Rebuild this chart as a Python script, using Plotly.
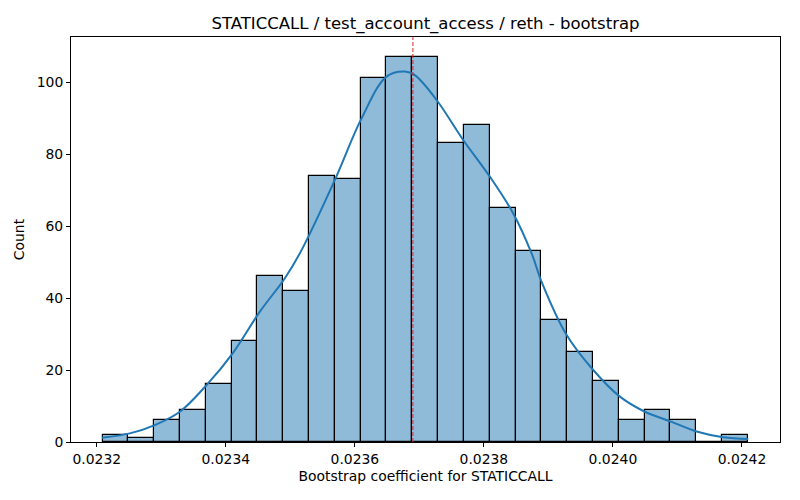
import plotly.graph_objs as go

# Гистограмма бутстрепа
bin_start = 0.023209
bin_width = 0.00004
counts = [2, 1, 6, 9, 16, 28, 46, 42, 74, 73, 101, 107, 107, 83, 88,
          65, 53, 34, 25, 17, 6, 9, 6, 0, 2]
bin_left = [bin_start + i * bin_width for i in range(len(counts))]

# KDE кривая
kde_x = [0.0232082, 0.0232512, 0.0232899, 0.0233287, 0.0233701, 0.0234109,
         0.0234527, 0.0234915, 0.0235174, 0.0235690, 0.0236104, 0.0236491,
         0.0236775, 0.0236930, 0.0237267, 0.0237679, 0.0238093, 0.0238455,
         0.0238740, 0.0238895, 0.0239283, 0.0239695, 0.0240109, 0.0240496,
         0.0240910, 0.0241298, 0.0241710, 0.0242098]
kde_y = [1.2, 2.4, 4.7, 8.4, 15.8, 24.7, 36.2, 45.5, 53.3, 72.8, 89.9, 101.5,
         102.9, 101.9, 95, 83.9, 73.7, 63.5, 52.4, 44.5, 29.7, 20, 12.6, 8.4,
         5.6, 2.9, 1.3, 0.8]

mean_value = 0.023690

x_ticks = [0.0232, 0.0234, 0.0236, 0.0238, 0.0240, 0.0242]
x_tick_labels = ['0.0232', '0.0234', '0.0236', '0.0238', '0.0240', '0.0242']
y_ticks = [0, 20, 40, 60, 80, 100]

fig = go.Figure()

fig.add_trace(go.Bar(
    x=bin_left,
    y=counts,
    width=bin_width,
    offset=0,
    marker=dict(color='rgba(31,119,180,0.5)',
                line=dict(color='black', width=1.2)),
    showlegend=False
))

fig.add_trace(go.Scatter(
    x=kde_x,
    y=kde_y,
    mode='lines',
    line=dict(color='#1f77b4', width=2, shape='spline'),
    showlegend=False
))

# среднее
fig.add_shape(type='line', x0=mean_value, x1=mean_value, y0=0, y1=1,
              yref='paper',
              line=dict(color='#d62728', width=1, dash='4px,2px'))

fig.update_layout(
    title=dict(text='STATICCALL / test_account_access / reth - bootstrap',
               xref='paper', x=0.5, xanchor='center',
               y=0.954, yanchor='middle',
               font=dict(size=16.5, color='black')),
    font=dict(family='DejaVu Sans', color='black'),
    width=800,
    height=500,
    margin=dict(l=71, r=20, t=37, b=58),
    plot_bgcolor='white',
    paper_bgcolor='white',
    bargap=0,
    xaxis=dict(
        range=[0.02316, 0.024259],
        tickvals=x_ticks,
        ticktext=x_tick_labels,
        tickfont=dict(size=13.9),
        ticks='outside', ticklen=4, tickcolor='black',
        showline=True, linecolor='black', linewidth=1, mirror=True,
        showgrid=False, zeroline=False, automargin=False,
        title=dict(text='Bootstrap coefficient for STATICCALL',
                   font=dict(size=13.9), standoff=5)
    ),
    yaxis=dict(
        range=[0, 112.5],
        tickvals=y_ticks,
        tickfont=dict(size=13.9),
        ticks='outside', ticklen=4, tickcolor='black',
        showline=True, linecolor='black', linewidth=1, mirror=True,
        showgrid=False, zeroline=False, automargin=False,
        title=dict(text='Count', font=dict(size=13.9), standoff=8)
    )
)

# убираем отступы страницы и панель инструментов
fig.write_html("out.html", config={'displayModeBar': False},
               post_script="document.body.style.margin='0';")
